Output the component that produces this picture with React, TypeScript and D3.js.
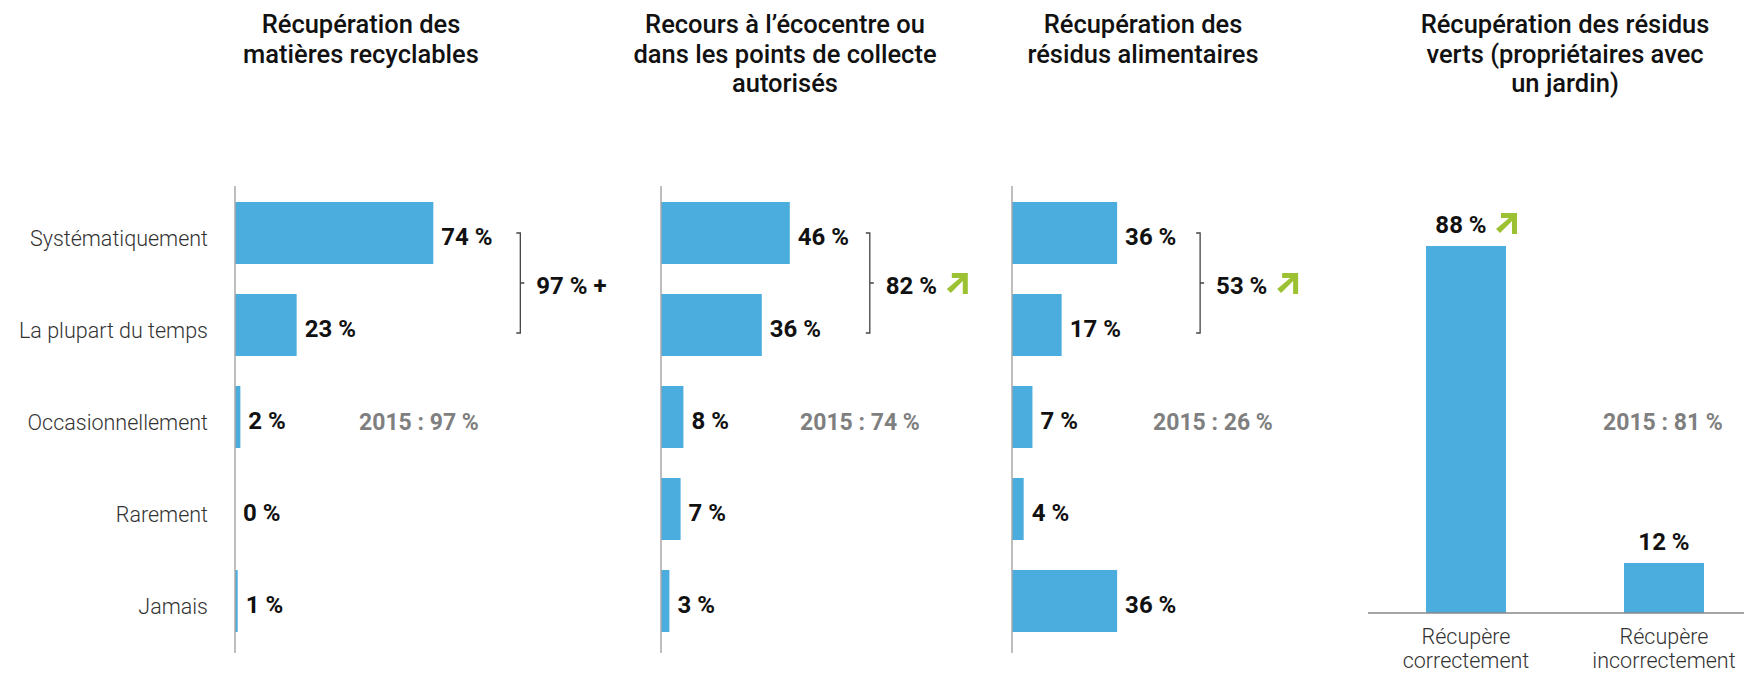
import React from 'react';
import * as d3 from 'd3';

// ---- data ----
const categories = ['Systématiquement', 'La plupart du temps', 'Occasionnellement', 'Rarement', 'Jamais'];
const recyclables = [74, 23, 2, 0, 1];
const ecocentre = [46, 36, 8, 7, 3];
const alimentaires = [36, 17, 7, 4, 36];

const vertsCategories = [['Récupère', 'correctement'], ['Récupère', 'incorrectement']];
const vertsValues = [88, 12];

const titles = [
  ['Récupération des', 'matières recyclables'],
  ['Recours à l’écocentre ou', 'dans les points de collecte', 'autorisés'],
  ['Récupération des', 'résidus alimentaires'],
  ['Récupération des résidus', 'verts (propriétaires avec', 'un jardin)'],
];
const totals = ['97 % +', '82 %', '53 %'];
const totalsUp = [false, true, true];
const values2015 = [97, 74, 26, 81];
const vertsUp = [true, false];

// ---- styles ----
const FONT = 'Roboto, "Noto Sans", sans-serif';
const BLUE = '#4badde';
const GREEN = '#9cc233';
const GREY = '#7f7f7f';
const AXIS = '#a9a9a9';
const TITLE_FS = 25.5;

const Arrow: React.FC<{ x: number; y: number; s?: number }> = ({ x, y, s = 21 }) => (
  <path
    fill={GREEN}
    d={`M${x + 5},${y} L${x + s},${y} L${x + s},${y + s} L${x + s - 5},${y + s} L${x + s - 5},${y + 8} L${x + 4},${y + s - 1} L${x},${y + s - 5} L${x + s - 8},${y + 5} L${x + 5},${y + 5} Z`}
  />
);

const Title: React.FC<{ lines: string[]; x: number }> = ({ lines, x }) => (
  <text textAnchor="middle" fontSize={TITLE_FS} fontWeight={500} fill="#111">
    {lines.map((t, i) => (
      <tspan key={i} x={x} y={33 + i * 29.5}>{t}</tspan>
    ))}
  </text>
);

interface HPanelProps {
  values: number[];
  title: string[];
  titleX: number;
  axisX: number;
  unit: number;
  catLabels?: boolean;
  total: string;
  up: boolean;
  old: number;
  oldX: number;
  bracketGap: number;
}

const LABEL_W = 51;
const yBand = d3.scaleBand<string>().domain(categories).range([186, 648]).paddingInner(0.326).paddingOuter(0.174);

const HPanel: React.FC<HPanelProps> = ({ values, title, titleX, axisX, unit, catLabels, total, up, old, oldX, bracketGap }) => {
  const x = d3.scaleLinear().domain([0, 100]).range([axisX, axisX + unit * 100]);
  const c = (i: number) => (yBand(categories[i]) as number) + yBand.bandwidth() / 2;
  const bx = x(values[0]) + 8 + LABEL_W + bracketGap;
  const top = c(0);
  const bot = c(1) + 8;
  const mid = (top + bot) / 2;
  return (
    <g>
      <Title lines={title} x={titleX} />
      {categories.map((cat, i) => (
        <g key={cat}>
          <rect x={x(0)} y={yBand(cat)} width={x(values[i]) - x(0)} height={yBand.bandwidth()} fill={BLUE} />
          <text x={x(values[i]) + 8} y={c(i) + 12} fontSize={24} fontWeight={700} fill="#111">{values[i]} %</text>
          {catLabels && (
            <text x={axisX - 27} y={c(i) + 13} textAnchor="end" fontSize={21.5} fontWeight={300} fill="#333">{cat}</text>
          )}
        </g>
      ))}
      <line x1={axisX} x2={axisX} y1={186} y2={653} stroke={AXIS} strokeWidth={1.5} />
      <path d={`M${bx - 4},${top} H${bx} V${bot} H${bx - 4} M${bx},${mid} H${bx + 4}`} fill="none" stroke="#444" strokeWidth={1.3} />
      <text x={bx + 16} y={mid + 11} fontSize={24} fontWeight={700} fill="#111">{total}</text>
      {up && <Arrow x={bx + 16 + LABEL_W + 10} y={mid - 10} />}
      <text x={oldX} y={c(2) + 13} fontSize={23} fontWeight={700} fill={GREY}>2015 : {old} %</text>
    </g>
  );
};

const VPanel: React.FC = () => {
  const keys = vertsCategories.map(d => d.join(' '));
  const xb = d3.scaleBand<string>().domain(keys).range([1368, 1762]).paddingInner(0.596).paddingOuter(0.293);
  const y = d3.scaleLinear().domain([0, 100]).range([613, 196]);
  return (
    <g>
      <Title lines={titles[3]} x={1565} />
      {keys.map((k, i) => {
        const cx = (xb(k) as number) + xb.bandwidth() / 2;
        return (
          <g key={k}>
            <rect x={xb(k)} y={y(vertsValues[i])} width={xb.bandwidth()} height={y(0) - y(vertsValues[i])} fill={BLUE} />
            <text x={vertsUp[i] ? cx - 5 : cx} y={y(vertsValues[i]) - 13} textAnchor="middle" fontSize={24} fontWeight={700} fill="#111">{vertsValues[i]} %</text>
            {vertsUp[i] && <Arrow x={cx + 30} y={y(vertsValues[i]) - 33} />}
            <text textAnchor="middle" fontSize={21.5} fontWeight={300} fill="#333">
              {vertsCategories[i].map((t, j) => (
                <tspan key={j} x={cx} y={644 + j * 24}>{t}</tspan>
              ))}
            </text>
          </g>
        );
      })}
      <line x1={1368} x2={1744} y1={y(0)} y2={y(0)} stroke="#888" strokeWidth={1.5} />
      <text x={1603} y={430} fontSize={23} fontWeight={700} fill={GREY}>2015 : {values2015[3]} %</text>
    </g>
  );
};

const App: React.FC = () => (
  <svg width={1744} height={674} style={{ position: 'absolute', left: 0, top: 0 }} fontFamily={FONT}>
    <rect width={1744} height={674} fill="#fff" />
    <HPanel values={recyclables} title={titles[0]} titleX={361} axisX={235} unit={2.68} catLabels
      total={totals[0]} up={totalsUp[0]} old={values2015[0]} oldX={359} bracketGap={28} />
    <HPanel values={ecocentre} title={titles[1]} titleX={785} axisX={661} unit={2.8}
      total={totals[1]} up={totalsUp[1]} old={values2015[1]} oldX={800} bracketGap={21} />
    <HPanel values={alimentaires} title={titles[2]} titleX={1143} axisX={1012} unit={2.92}
      total={totals[2]} up={totalsUp[2]} old={values2015[2]} oldX={1153} bracketGap={24} />
    <VPanel />
  </svg>
);

export default App;
